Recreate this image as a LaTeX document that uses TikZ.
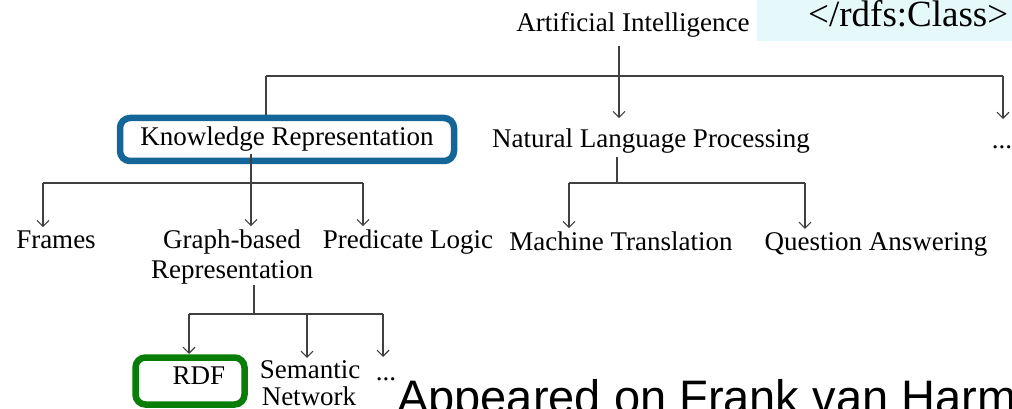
\documentclass[tikz,border=0pt]{standalone}
\usepackage{fontspec}
\setmainfont{Liberation Serif}
\newfontfamily\apsans{Liberation Sans}
\usetikzlibrary{arrows.meta,calc}
\definecolor{linegray}{RGB}{64,64,64}
\definecolor{krblue}{RGB}{20,102,152}
\definecolor{rdfgreen}{RGB}{8,126,8}
\definecolor{cyanbg}{RGB}{229,249,251}
\begin{document}
\begin{tikzpicture}[x=1pt,y=-1pt,
  lab/.style={font=\fontsize{27}{30}\selectfont, inner sep=0pt, anchor=base},
  conn/.style={draw=linegray, line width=1.1pt},
  arr/.style={conn, -{Straight Barb[length=6pt,width=12pt,line width=1.1pt]}},
  hibox/.style={draw=#1, line width=6.5pt, rounded corners=10pt, inner sep=0pt}
]
\clip (0,0) rectangle (1012,409);
\useasboundingbox (0,0) rectangle (1012,409);

% slide remnants
\fill[cyanbg] (757,0) rectangle (1012,41);
\node[font=\fontsize{37}{40}\selectfont, inner sep=0pt, anchor=base west] (rdfs) at (808,27) {</rdfs:Class>};
\node[font=\apsans\fontsize{47}{50}\selectfont, inner sep=0pt, anchor=base west] (appeared) at (397,413) {Appeared on Frank van Harmelen};

% text nodes
\node[lab] (ai) at (633,32) {Artificial Intelligence};
\node[hibox=krblue, minimum width=334pt, minimum height=43pt, font=\fontsize{27}{30}\selectfont] (kr) at (287,139.5) {Knowledge Representation};
\node[lab] (nlp) at (651,148) {Natural Language Processing};
\node[lab] (dots1) at (1002,149) {...};
\node[lab] (frames) at (56,248) {Frames};
\node[lab] (graph1) at (232,248) {Graph-based};
\node[lab] (graph2) at (232,278) {Representation};
\node[lab] (pred) at (408,248) {Predicate Logic};
\node[lab] (mt) at (621,250) {Machine Translation};
\node[lab] (qa) at (876,250) {Question Answering};
\node[lab] (sem1) at (310,378) {Semantic};
\node[lab] (sem2) at (309,405) {Network};
\node[lab] (dots2) at (386,380) {...};
\node[lab] (rdf) at (199,384) {RDF};

% level 1
\coordinate (h1) at (619,76);
\coordinate (aL) at (266,76);
\coordinate (aR) at (1003,76);
\draw[conn] ($(ai.south -| h1)+(0,8)$) -- (h1);
\draw[arr] (h1) -- ($(nlp.north -| h1)+(0,-11)$);
\draw[conn] (aL) -- (aR);
\draw[conn] (aL) -- (aL |- kr.north);
\draw[arr] (aR) -- ($(dots1.north -| aR)+(0,-27)$);

% knowledge representation
\coordinate (k) at (251,183);
\coordinate (kL) at (43,183);
\coordinate (kR) at (363,183);
\draw[conn] ($(kr.center -| k)+(0,15)$) -- (k);
\draw[conn] (kL) -- (kR);
\draw[arr] (kL) -- ($(frames.north -| kL)+(0,-3)$);
\draw[arr] (k) -- ($(graph1.north -| k)+(0,-3)$);
\draw[arr] (kR) -- ($(pred.north -| kR)+(0,-3)$);

% natural language processing
\coordinate (n) at (617,183);
\coordinate (nL) at (569,183);
\coordinate (nR) at (805,183);
\draw[conn] ($(nlp.south -| n)+(0,3)$) -- (n);
\draw[conn] (nL) -- (nR);
\draw[arr] (nL) -- ($(mt.north -| nL)+(0,-3)$);
\draw[arr] (nR) -- ($(qa.north -| nR)+(0,-3)$);

% graph-based representation
\coordinate (g) at (254,314);
\coordinate (gL) at (189,314);
\coordinate (gM) at (307,314);
\coordinate (gR) at (383,314);
\draw[conn] ($(graph2.south -| g)+(0,1)$) -- (g);
\draw[conn] (gL) -- (gR);
\draw[arr] (gL) -- ++(0,40);
\draw[arr] (gM) -- ($(sem1.north -| gM)+(0,-2)$);
\draw[arr] (gR) -- ++(0,43);

\node[hibox=rdfgreen, minimum width=109pt, minimum height=47pt] (rdfbox) at (190,381) {};
\end{tikzpicture}
\end{document}
